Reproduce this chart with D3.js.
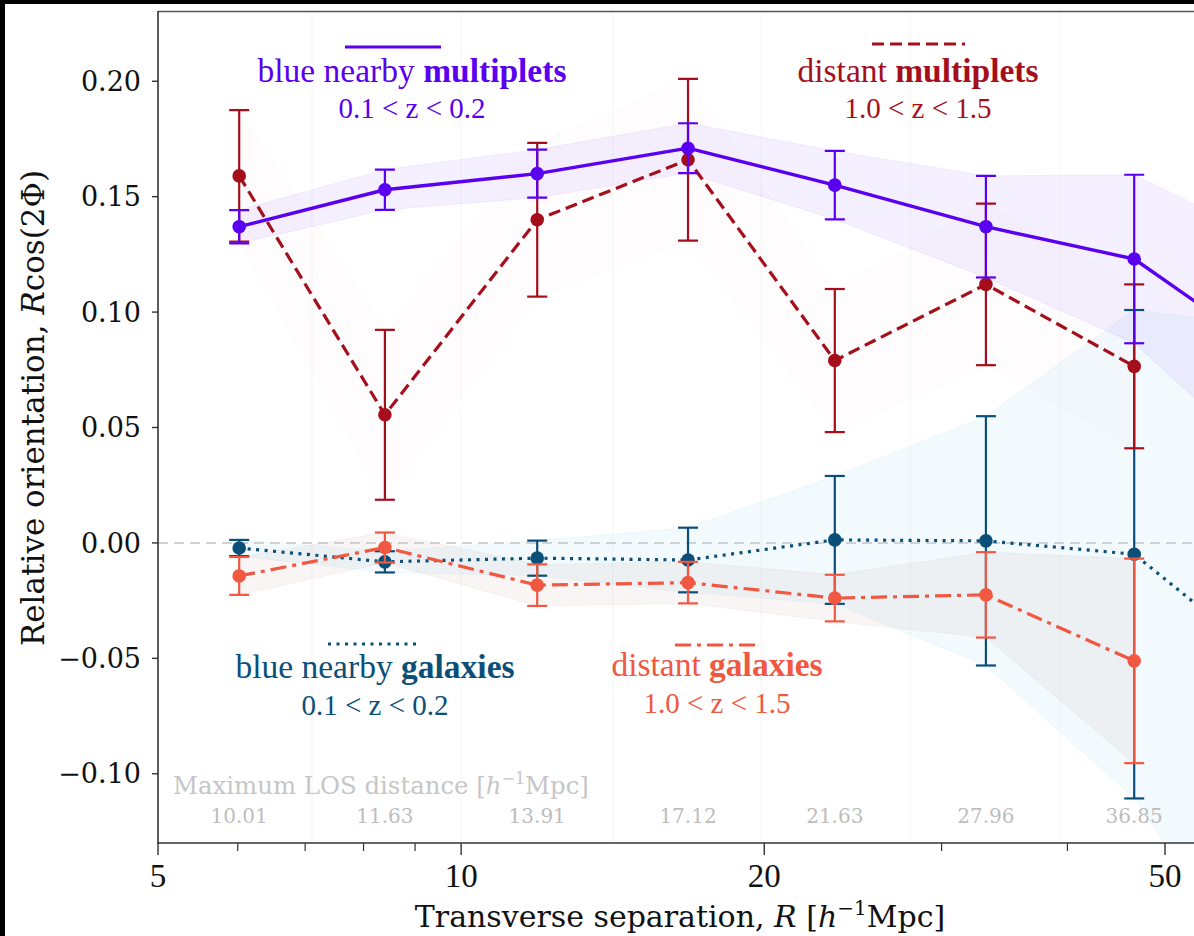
<!DOCTYPE html>
<html><head><meta charset="utf-8">
<script src="https://cdn.jsdelivr.net/npm/d3@7"></script>
<style>
html,body{margin:0;padding:0;background:#fff;overflow:hidden;}
svg{display:block;}
</style></head>
<body>
<svg id="chart" width="1194" height="936"></svg>
<script>
// ---- data ----
const R = [6.02, 8.40, 11.9, 16.8, 23.5, 33.2, 46.6, 65.5];
const blueMultVal = [0.137, 0.153, 0.160, 0.171, 0.155, 0.137, 0.123, 0.078];
const blueMultErr = [0.0072, 0.0087, 0.0104, 0.0108, 0.0148, 0.022, 0.0365, 0.05];
const distMultVal = [0.159, 0.0555, 0.140, 0.166, 0.079, 0.112, 0.0765];
const distMultErr = [0.0285, 0.0368, 0.0333, 0.035, 0.031, 0.035, 0.0355];
const blueGalVal = [-0.0022, -0.0082, -0.0066, -0.0074, 0.0013, 0.0009, -0.0049, -0.057];
const blueGalErr = [0.0035, 0.0046, 0.0076, 0.014, 0.0277, 0.054, 0.1058, 0.15];
const distGalVal = [-0.0143, -0.002, -0.0183, -0.0172, -0.0239, -0.0225, -0.0511];
const distGalErr = [0.0082, 0.0065, 0.009, 0.009, 0.0101, 0.0185, 0.0443];
const losLabels = ["10.01", "11.63", "13.91", "17.12", "21.63", "27.96", "36.85"];
const yTicks = [-0.10, -0.05, 0.00, 0.05, 0.10, 0.15, 0.20];
const xMajorTicks = [5, 10, 20, 50];
const xMinorTicks = [6, 7, 8, 9, 30, 40];

const svg = d3.select("#chart");
const pLeft = 158, pTop = 12, pBottom = 843, pxPerDecade = 1007;
const xMax = 68;
const x = d3.scaleLog().domain([5, xMax]).range([pLeft, pLeft + pxPerDecade * Math.log10(xMax / 5)]);
const y = d3.scaleLinear().domain([-0.13, 0.23]).range([pBottom, pTop]);
const pRight = x.range()[1];

const serif = "'DejaVu Serif', serif";
const times = "'Liberation Serif', 'Times New Roman', serif";

// black frame strips of the screenshot
svg.append("rect").attr("x", 0).attr("y", 0).attr("width", 1194).attr("height", 4).attr("fill", "#000");
svg.append("rect").attr("x", 0).attr("y", 0).attr("width", 5).attr("height", 936).attr("fill", "#000");

const defs = svg.append("defs");
defs.append("clipPath").attr("id", "plotclip").append("rect")
  .attr("x", pLeft).attr("y", pTop).attr("width", pRight - pLeft).attr("height", pBottom - pTop);
const plot = svg.append("g").attr("clip-path", "url(#plotclip)");

const series = [
  {name: "bg", vals: blueGalVal, errs: blueGalErr, color: "#0b4f79", band: "#5bc0eb", bandOp: 0.08, dash: "3,5.5", width: 3.2},
  {name: "dg", vals: distGalVal, errs: distGalErr, color: "#f05842", band: "#b07070", bandOp: 0.07, dash: "16,6,4,6", width: 3.2},
  {name: "dm", vals: distMultVal, errs: distMultErr, color: "#a50f1c", band: "#e08080", bandOp: 0.022, dash: "12,6", width: 3.2},
  {name: "bm", vals: blueMultVal, errs: blueMultErr, color: "#5a00f0", band: "#8040ff", bandOp: 0.08, dash: null, width: 3.4}
];

// bands
series.forEach(s => {
  const pts = s.vals.map((v, i) => ({r: R[i], v, e: s.errs[i]}));
  const area = d3.area().x(d => x(d.r)).y0(d => y(d.v - d.e)).y1(d => y(d.v + d.e));
  plot.append("path").datum(pts).attr("d", area)
    .attr("fill", s.band).attr("fill-opacity", s.bandOp)
    .attr("stroke", s.band).attr("stroke-opacity", s.bandOp).attr("stroke-width", 1);
});

// faint bin-edge lines
const edges = d3.range(R.length - 1).map(i => Math.sqrt(R[i] * R[i + 1]));
plot.selectAll("line.edge").data(edges).enter().append("line")
  .attr("x1", d => x(d)).attr("x2", d => x(d)).attr("y1", pTop).attr("y2", pBottom)
  .attr("stroke", "#000").attr("stroke-opacity", 0.035).attr("stroke-width", 1.2);

// zero line
plot.append("line").attr("x1", pLeft).attr("x2", pRight).attr("y1", y(0)).attr("y2", y(0))
  .attr("stroke", "#c4c4c4").attr("stroke-width", 1.5).attr("stroke-dasharray", "10,6");

// lines, error bars, markers
series.forEach(s => {
  const pts = s.vals.map((v, i) => ({r: R[i], v, e: s.errs[i]}));
  const line = d3.line().x(d => x(d.r)).y(d => y(d.v));
  const p = plot.append("path").datum(pts).attr("d", line).attr("fill", "none")
    .attr("stroke", s.color).attr("stroke-width", s.width).attr("stroke-linejoin", "round");
  if (s.dash) p.attr("stroke-dasharray", s.dash);
  const g = plot.append("g");
  pts.forEach(d => {
    const cx = x(d.r);
    g.append("line").attr("x1", cx).attr("x2", cx).attr("y1", y(d.v - d.e)).attr("y2", y(d.v + d.e))
      .attr("stroke", s.color).attr("stroke-width", 2.2);
    [d.v - d.e, d.v + d.e].forEach(c => {
      g.append("line").attr("x1", cx - 10).attr("x2", cx + 10).attr("y1", y(c)).attr("y2", y(c))
        .attr("stroke", s.color).attr("stroke-width", 2.2);
    });
    g.append("circle").attr("cx", cx).attr("cy", y(d.v)).attr("r", 6.8).attr("fill", s.color);
  });
});

// spines
svg.append("line").attr("x1", pLeft).attr("x2", 1194).attr("y1", pTop - 0.5).attr("y2", pTop - 0.5)
  .attr("stroke", "#555").attr("stroke-width", 1.6);
svg.append("line").attr("x1", pLeft).attr("x2", pLeft).attr("y1", pTop - 1).attr("y2", pBottom + 1)
  .attr("stroke", "#333").attr("stroke-width", 1.6);
svg.append("line").attr("x1", pLeft).attr("x2", 1194).attr("y1", pBottom).attr("y2", pBottom)
  .attr("stroke", "#333").attr("stroke-width", 1.6);

// y ticks
const fmtY = v => (v < 0 ? "\u2212" : "") + Math.abs(v).toFixed(2);
yTicks.forEach(t => {
  svg.append("line").attr("x1", pLeft - 6).attr("x2", pLeft).attr("y1", y(t)).attr("y2", y(t))
    .attr("stroke", "#333").attr("stroke-width", 1.4);
  svg.append("text").attr("x", pLeft - 17).attr("y", y(t)).attr("dy", "0.36em")
    .attr("text-anchor", "end").attr("font-family", serif).attr("font-size", 27)
    .attr("fill", "#111").text(fmtY(t));
});
// x ticks
xMajorTicks.forEach(t => {
  svg.append("line").attr("x1", x(t)).attr("x2", x(t)).attr("y1", pBottom).attr("y2", pBottom + 12)
    .attr("stroke", "#333").attr("stroke-width", 1.4);
  svg.append("text").attr("x", x(t)).attr("y", 887).attr("text-anchor", "middle")
    .attr("font-family", times).attr("font-size", 33).attr("fill", "#111").text(t);
});
xMinorTicks.forEach(t => {
  svg.append("line").attr("x1", x(t)).attr("x2", x(t)).attr("y1", pBottom).attr("y2", pBottom + 8)
    .attr("stroke", "#333").attr("stroke-width", 1.2);
});

// axis labels
const xl = svg.append("text").attr("x", 680).attr("y", 927).attr("text-anchor", "middle")
  .attr("font-family", serif).attr("font-size", 30).attr("fill", "#111");
xl.append("tspan").text("Transverse separation, ");
xl.append("tspan").attr("font-style", "italic").text("R");
xl.append("tspan").text(" [");
xl.append("tspan").attr("font-style", "italic").text("h");
xl.append("tspan").attr("font-size", 20).attr("dy", -12).text("\u22121");
xl.append("tspan").attr("dy", 12).text("Mpc]");

const yl = svg.append("text").attr("transform", "translate(44,408) rotate(-90)")
  .attr("text-anchor", "middle").attr("font-family", serif).attr("font-size", 31).attr("fill", "#111");
yl.append("tspan").text("Relative orientation, ");
yl.append("tspan").attr("font-style", "italic").text("R");
yl.append("tspan").text("cos(2\u03A6)");

// LOS annotation
const los = svg.append("text").attr("x", 173).attr("y", 794).attr("font-family", serif)
  .attr("font-size", 24.4).attr("fill", "#c6c6c6");
los.append("tspan").text("Maximum LOS distance [");
los.append("tspan").attr("font-style", "italic").text("h");
los.append("tspan").attr("font-size", 16).attr("dy", -10).text("\u22121");
los.append("tspan").attr("dy", 10).text("Mpc]");
losLabels.forEach((l, i) => {
  svg.append("text").attr("x", x(R[i])).attr("y", 823).attr("text-anchor", "middle")
    .attr("font-family", serif).attr("font-size", 20).attr("fill", "#bdbdbd").text(l);
});

// in-plot legend labels
const legends = [
  {cx: 412, y1: 82, y2: 118, ly: 47, lx0: 345, lx1: 441, pre: "blue nearby ", bold: "multiplets", sub: "0.1 < z < 0.2", s: series[3]},
  {cx: 918, y1: 82, y2: 118, ly: 44, lx0: 872, lx1: 965, pre: "distant ", bold: "multiplets", sub: "1.0 < z < 1.5", s: series[2]},
  {cx: 375, y1: 678, y2: 715, ly: 644, lx0: 328, lx1: 420, pre: "blue nearby ", bold: "galaxies", sub: "0.1 < z < 0.2", s: series[0]},
  {cx: 717, y1: 676, y2: 713, ly: 645, lx0: 675, lx1: 760, pre: "distant ", bold: "galaxies", sub: "1.0 < z < 1.5", s: series[1]}
];
legends.forEach(L => {
  const ln = svg.append("line").attr("x1", L.lx0).attr("x2", L.lx1).attr("y1", L.ly).attr("y2", L.ly)
    .attr("stroke", L.s.color).attr("stroke-width", 3.2);
  if (L.s.dash) ln.attr("stroke-dasharray", L.s.dash);
  const t = svg.append("text").attr("x", L.cx).attr("y", L.y1).attr("text-anchor", "middle")
    .attr("font-family", times).attr("font-size", 33.5).attr("fill", L.s.color);
  t.append("tspan").text(L.pre);
  t.append("tspan").attr("font-weight", "bold").text(L.bold);
  svg.append("text").attr("x", L.cx).attr("y", L.y2).attr("text-anchor", "middle")
    .attr("font-family", times).attr("font-size", 29).attr("fill", L.s.color).text(L.sub);
});
</script>
</body></html>
